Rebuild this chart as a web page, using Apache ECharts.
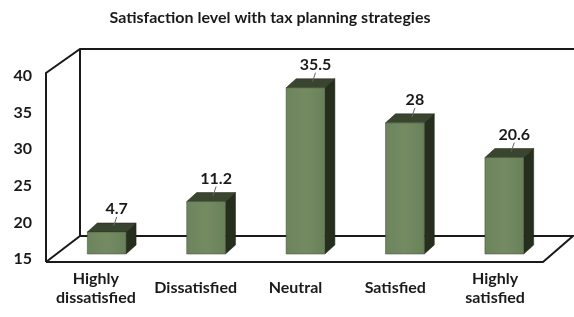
<!DOCTYPE html>
<html>
<head>
<meta charset="utf-8">
<script src="https://cdn.jsdelivr.net/npm/echarts@6/dist/echarts.min.js"></script>
<style>
html,body{margin:0;padding:0;background:#fff;}
#c{width:574px;height:317px;}
</style>
</head>
<body>
<div id="c"></div>
<script>
var categories = ['Highly\ndissatisfied', 'Dissatisfied', 'Neutral', 'Satisfied', 'Highly\nsatisfied'];
var values = [4.7, 11.2, 35.5, 28, 20.6];
var yTicks = [15, 20, 25, 30, 35, 40];

var FONT = 'Lato, "Open Sans", sans-serif';
var chart = echarts.init(document.getElementById('c'), null, {renderer: 'canvas'});

var DX = 10, DY = -9;
function renderBar(params, api) {
  var x = api.value(0), v = api.value(1);
  var top = api.coord([x, v]);
  var base = api.coord([x, 0]);
  var w = api.size([1, 0])[0] * 0.39;
  var x0 = top[0] - w / 2, x1 = top[0] + w / 2;
  var ty = top[1], by = base[1];
  return {
    type: 'group',
    children: [
      {type: 'polygon', shape: {points: [[x1, ty], [x1 + DX, ty + DY], [x1 + DX, by + DY], [x1, by]]},
        style: {fill: '#262e1d', stroke: '#1c2215', lineWidth: 0.5}},
      {type: 'polygon', shape: {points: [[x0, ty], [x0 + DX, ty + DY], [x1 + DX, ty + DY], [x1, ty]]},
        style: {fill: '#3a4530', stroke: '#1c2215', lineWidth: 0.5}},
      {type: 'rect', shape: {x: x0, y: ty, width: w, height: by - ty},
        style: {fill: new echarts.graphic.LinearGradient(0, 0, 1, 0, [
          {offset: 0, color: '#6c845c'}, {offset: 0.5, color: '#748b62'}, {offset: 1, color: '#69815a'}]),
          stroke: '#3d4a30', lineWidth: 0.5}},
      {type: 'line', shape: {x1: top[0] + 10, y1: ty - 15, x2: top[0] + 7, y2: ty - 6},
        style: {stroke: '#666', lineWidth: 1}},
      {type: 'text', x: top[0] + 10, y: ty - 23,
        style: {text: String(v), fill: '#1a1a1a', font: 'bold 16px ' + FONT, align: 'center', verticalAlign: 'middle'}}
    ]
  };
}

var lineStyle = {stroke: '#1a1a1a', lineWidth: 2, fill: null};
chart.setOption({
  backgroundColor: '#fff',
  animation: false,
  title: {
    text: 'Satisfaction level with tax planning strategies',
    left: 265, top: 5, textAlign: 'center',
    textStyle: {fontFamily: FONT, fontWeight: 'bold', fontSize: 16, color: '#1a1a1a'}
  },
  grid: [
    {left: 46, right: 29, top: 76, bottom: 58},
    {left: 57, right: 20, top: 76, bottom: 63}
  ],
  xAxis: [
    {type: 'category', gridIndex: 0, data: categories,
      axisLine: {show: false}, axisTick: {show: false}, splitLine: {show: false},
      axisLabel: {interval: 0, margin: 29, verticalAlign: 'middle', lineHeight: 19,
        fontFamily: FONT, fontWeight: 'bold', fontSize: 16, color: '#1a1a1a'}},
    {type: 'category', gridIndex: 1, data: categories, show: false}
  ],
  yAxis: [
    {type: 'value', gridIndex: 0, min: yTicks[0], max: yTicks[yTicks.length - 1], interval: 5,
      axisLine: {show: false}, axisTick: {show: false}, splitLine: {show: false},
      axisLabel: {margin: 14, fontFamily: FONT, fontWeight: 'bold', fontSize: 16, color: '#1a1a1a'}},
    {type: 'value', gridIndex: 1, min: 0, max: 38, show: false}
  ],
  graphic: [
    {type: 'polyline', z: 1, shape: {points: [[46, 262], [46, 73], [80, 49], [574, 49]]}, style: lineStyle},
    {type: 'line', z: 1, shape: {x1: 80, y1: 49, x2: 80, y2: 236}, style: lineStyle},
    {type: 'polyline', z: 1, shape: {points: [[46, 262], [80, 236], [573, 236], [543, 262], [46, 262]]}, style: lineStyle}
  ],
  series: [{
    type: 'custom', xAxisIndex: 1, yAxisIndex: 1, z: 5,
    renderItem: renderBar,
    data: values.map(function (v, i) { return [i, v]; })
  }]
});
</script>
</body>
</html>
